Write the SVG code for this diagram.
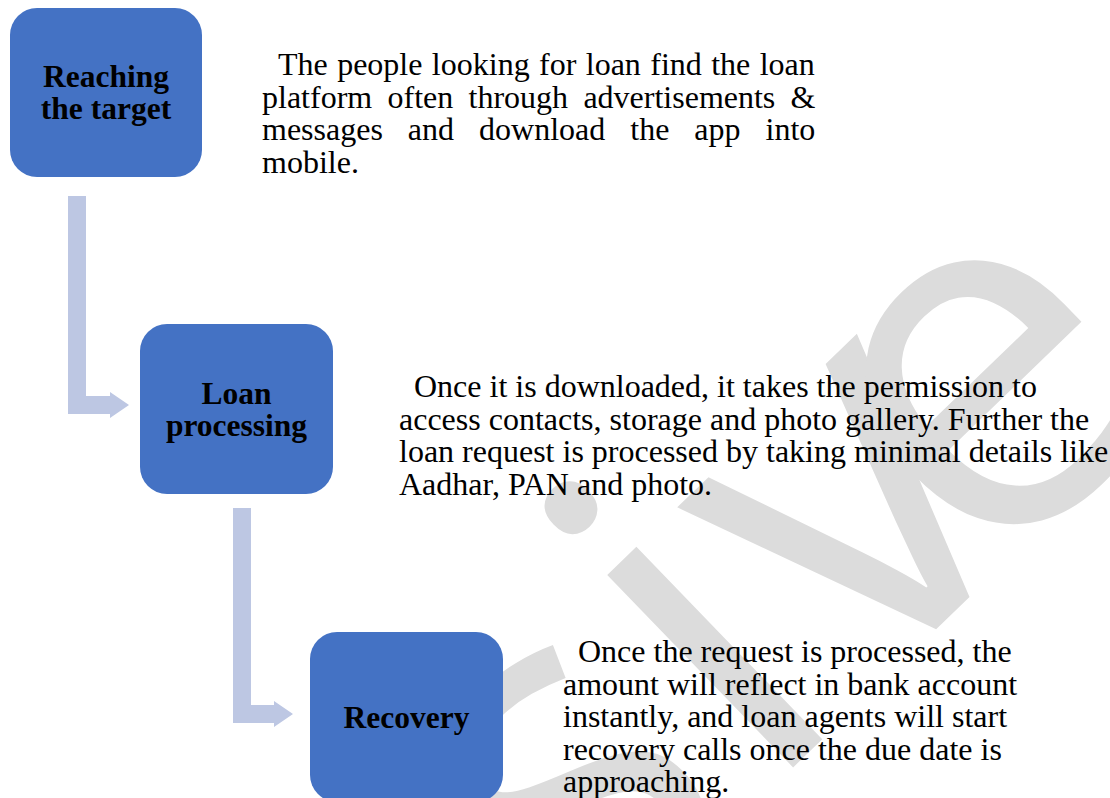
<svg xmlns="http://www.w3.org/2000/svg" width="1110" height="798" viewBox="0 0 1110 798">
<style>
.box{fill:#4472c4;}
.lbl{font-family:"Liberation Serif","Times New Roman",serif;font-weight:bold;font-size:31.5px;fill:#000;text-anchor:middle;}
.txt{font-family:"Liberation Serif","Times New Roman",serif;font-size:32px;fill:#000;}
.conn{fill:#bdc7e3;}
.wm{font-family:"Open Sans",sans-serif;font-size:500px;fill:#dcdcdc;}
</style>
<rect width="1110" height="798" fill="#ffffff"/>
<g id="watermark" transform="translate(953,613) rotate(-44)">
<text class="wm" x="-520 -265 -125 40" y="0 0 0 6">sive</text>
</g>
<g id="connectors">
<path class="conn" d="M68,196 H86 V396 H110 V392 L129,405 L110,418 V414 H68 Z"/>
<path class="conn" d="M233,508 H251 V705 H274 V701 L293,714 L274,727 V723 H233 Z"/>
</g>
<g id="node-reaching">
<rect class="box" x="10" y="8" width="192" height="169" rx="27"/>
<text class="lbl" x="106" y="87">Reaching</text>
<text class="lbl" x="106" y="119">the target</text>
</g>
<g id="node-loan">
<rect class="box" x="140" y="324" width="193" height="170" rx="27"/>
<text class="lbl" x="236.5" y="403.5">Loan</text>
<text class="lbl" x="236.5" y="435.5">processing</text>
</g>
<g id="node-recovery">
<rect class="box" x="310" y="632" width="193" height="170" rx="27"/>
<text class="lbl" x="406.5" y="727.5">Recovery</text>
</g>
<g id="desc-reaching">
<text class="txt" x="278" y="75" word-spacing="1.4">The people looking for loan find the loan</text>
<text class="txt" x="262" y="107.5" word-spacing="7.3">platform often through advertisements &amp;</text>
<text class="txt" x="262" y="140" word-spacing="17">messages and download the app into</text>
<text class="txt" x="262" y="172.5">mobile.</text>
</g>
<g id="desc-loan">
<text class="txt" x="414" y="397">Once it is downloaded, it takes the permission to</text>
<text class="txt" x="399" y="429.5">access contacts, storage and photo gallery. Further the</text>
<text class="txt" x="399" y="462">loan request is processed by taking minimal details like</text>
<text class="txt" x="399" y="494.5">Aadhar, PAN and photo.</text>
</g>
<g id="desc-recovery">
<text class="txt" x="578" y="662">Once the request is processed, the</text>
<text class="txt" x="563" y="694.5">amount will reflect in bank account</text>
<text class="txt" x="563" y="727">instantly, and loan agents will start</text>
<text class="txt" x="563" y="759.5">recovery calls once the due date is</text>
<text class="txt" x="563" y="792">approaching.</text>
</g>
</svg>
